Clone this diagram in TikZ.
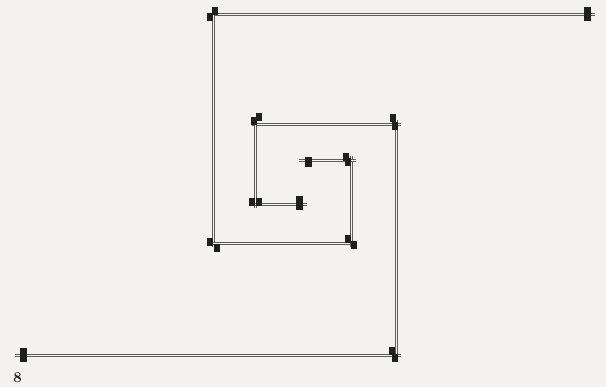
\documentclass[tikz,border=0pt]{standalone}
\usepackage{tikz}
\usetikzlibrary{positioning}

\definecolor{paper}{RGB}{243,242,239}
\definecolor{wiregray}{RGB}{90,95,93}
\definecolor{tabblack}{RGB}{30,32,30}

\begin{document}
\begin{tikzpicture}[
  x=1pt, y=-1pt,
  wire/.style={
    draw=wiregray, line width=0.8pt, double=paper, double distance=1.2pt,
    shorten <=-4pt, shorten >=-4pt
  },
  tab/.style={
    rectangle, fill=tabblack, inner sep=0pt,
    minimum width=6pt, minimum height=8pt
  },
  endtab/.style={tab, minimum width=7pt, minimum height=14pt},
  pagenum/.style={font=\fontsize{15}{15}\selectfont\bfseries, text=tabblack}
]

% ---- Paper ----
\fill[paper] (0,0) rectangle (606,387);
\useasboundingbox (0,0) rectangle (606,387);

% ---- Corner points: first spiral (from top right) ----
\coordinate (a0) at (591,14.5);
\coordinate (a1) at (213.5,14.5);
\coordinate (a2) at (213.5,243.5);
\coordinate (a3) at (351.5,243.5);
\coordinate (a4) at (351.5,160.5);
\coordinate (a5) at (303,160.5);

% ---- Corner points: second spiral (from bottom left) ----
\coordinate (b0) at (19,355.5);
\coordinate (b1) at (396.5,355.5);
\coordinate (b2) at (396.5,124.5);
\coordinate (b3) at (255.5,124.5);
\coordinate (b4) at (255.5,204.5);
\coordinate (b5) at (303,204.5);

% ---- Wires ----
\foreach \p/\q in {a0/a1, a1/a2, a2/a3, a3/a4, a4/a5,
                   b0/b1, b1/b2, b2/b3, b3/b4, b4/b5} {
  \draw[wire] (\p) -- (\q);
}

% ---- Tabs at the free ends ----
\node[endtab] (ta0) at (587.5,14) {};
\node[endtab, minimum height=10pt] (ta5) at (308,162) {};
\node[endtab] (tb0) at (23,355) {};
\node[endtab] (tb5) at (299.5,203) {};

% ---- Tabs at the corners (two per corner) ----
\foreach \x/\y [count=\i] in {214.5/11, 210/17.5,
                              210/242, 216.5/248,
                              348/239.5, 354/245.5,
                              346/157, 348/162,
                              392/351, 395/358.5,
                              392.5/118.5, 394.5/126,
                              253.5/121.5, 258.5/117,
                              251.5/202.5, 258.5/202.5} {
  \node[tab] (tc\i) at (\x,\y) {};
}

% ---- Page number ----
\node[pagenum] (page) at (17.5,378) {8};

\end{tikzpicture}
\end{document}
